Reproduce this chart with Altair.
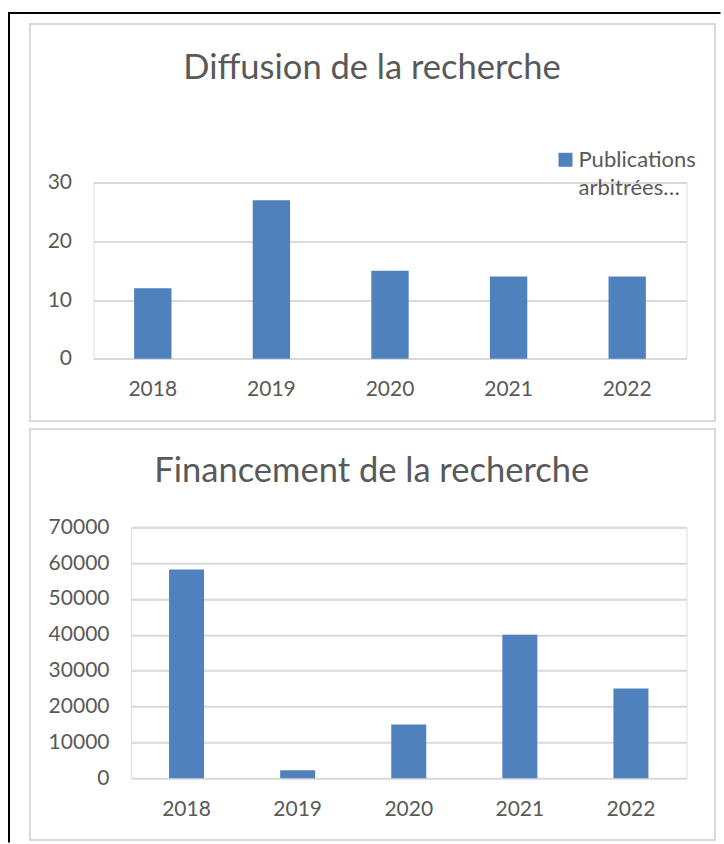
import altair as alt
import pandas as pd

years = ["2018", "2019", "2020", "2021", "2022"]
publications = [12, 27, 15, 14, 14]
financement = [58200, 2200, 15000, 40000, 25000]
series_name = "Publications arbitrées…"
legend_lines = ["Publications", "arbitrées…"]
title_top = "Diffusion de la recherche"
title_bottom = "Financement de la recherche"
ticks_top = [0, 10, 20, 30]
ticks_bottom = [0, 10000, 20000, 30000, 40000, 50000, 60000, 70000]

BAR = "#4F81BD"
GRID = "#D9D9D9"
TEXT = "#595959"
FONT = "Lato"

top_df = pd.DataFrame({"year": years, "value": publications, "series": [series_name] * len(years)})
bot_df = pd.DataFrame({"year": years, "value": financement})
leg_df = pd.DataFrame({"series": [series_name]})


def x_enc():
    return alt.X(
        "year:N", sort=years, title=None,
        scale=alt.Scale(paddingInner=0.685, paddingOuter=0.3425),
        axis=alt.Axis(labelAngle=0, labelFont=FONT, labelFontSize=21, labelColor=TEXT,
                      labelPadding=20, ticks=False, domain=False, grid=False),
    )


def y_axis(vals):
    return alt.Axis(values=vals, grid=True, gridColor=GRID, gridWidth=2, domain=False,
                    ticks=False, labelPadding=22, labelFont=FONT, labelFontSize=21,
                    labelColor=TEXT, title=None, format="d")


color_enc = alt.Color("series:N", scale=alt.Scale(range=[BAR]), legend=None)

bars_top = alt.Chart(top_df).mark_bar().encode(
    x=x_enc(),
    y=alt.Y("value:Q", scale=alt.Scale(domain=[0, 30], nice=False), axis=y_axis(ticks_top)),
    color=color_enc,
)

# legend (symbol + wrapped label, as in the original)
leg_symbol = alt.Chart(leg_df).mark_square(size=196, opacity=1).encode(
    x=alt.value(472), y=alt.value(-22.7), color=color_enc)
leg_label = alt.Chart(leg_df).mark_text(
    align="left", baseline="top", font=FONT, fontSize=22, color=TEXT, lineHeight=28
).encode(x=alt.value(485), y=alt.value(-32.2), text=alt.value(legend_lines))

top = alt.layer(bars_top, leg_symbol, leg_label).properties(
    width=593, height=176.3,
    title=alt.TitleParams(title_top, font=FONT, fontSize=34.5, color=TEXT, fontWeight="normal",
                          anchor="middle", frame="group", dx=-18, baseline="alphabetic",
                          offset=36),
)

bottom = alt.Chart(bot_df).mark_bar(color=BAR).encode(
    x=x_enc(),
    y=alt.Y("value:Q", scale=alt.Scale(domain=[0, 70000], nice=False), axis=y_axis(ticks_bottom)),
).properties(
    width=555.5, height=251,
    title=alt.TitleParams(title_bottom, font=FONT, fontSize=34.5, color=TEXT, fontWeight="normal",
                          anchor="middle", frame="group", dx=-37, baseline="alphabetic",
                          offset=0),
)

one = pd.DataFrame({"k": [0]})
base = alt.Chart(one)
top_line = base.mark_rule(color="black", strokeWidth=2).encode(
    x=alt.value(-85.5), x2=alt.value(627), y=alt.value(-514.2))
left_line = base.mark_rule(color="black", strokeWidth=2).encode(
    x=alt.value(-84.5), y=alt.value(-515.2), y2=alt.value(315.3))
rect_top = base.mark_rect(fillOpacity=0, stroke=GRID, strokeWidth=2).encode(
    x=alt.value(-63.5), x2=alt.value(621.5), y=alt.value(-503.2), y2=alt.value(-106.2))
rect_bot = base.mark_rect(fillOpacity=0, stroke=GRID, strokeWidth=2).encode(
    x=alt.value(-63.5), x2=alt.value(621.5), y=alt.value(-98.2), y2=alt.value(312.8))
decor = alt.layer(top_line, left_line, rect_top, rect_bot).properties(width=1, height=1)

bottom_row = alt.hconcat(decor, bottom, spacing=36.5, bounds="flush")

chart = alt.vconcat(top, bottom_row, spacing=167.7, bounds="flush").properties(
    padding={"left": 6.5, "top": 9.5, "right": 0, "bottom": 0},
).resolve_scale(color="independent").configure_view(
    strokeWidth=0
).configure(font=FONT, background="white")

chart.save("out.html", embed_options={"renderer": "svg", "actions": False})
